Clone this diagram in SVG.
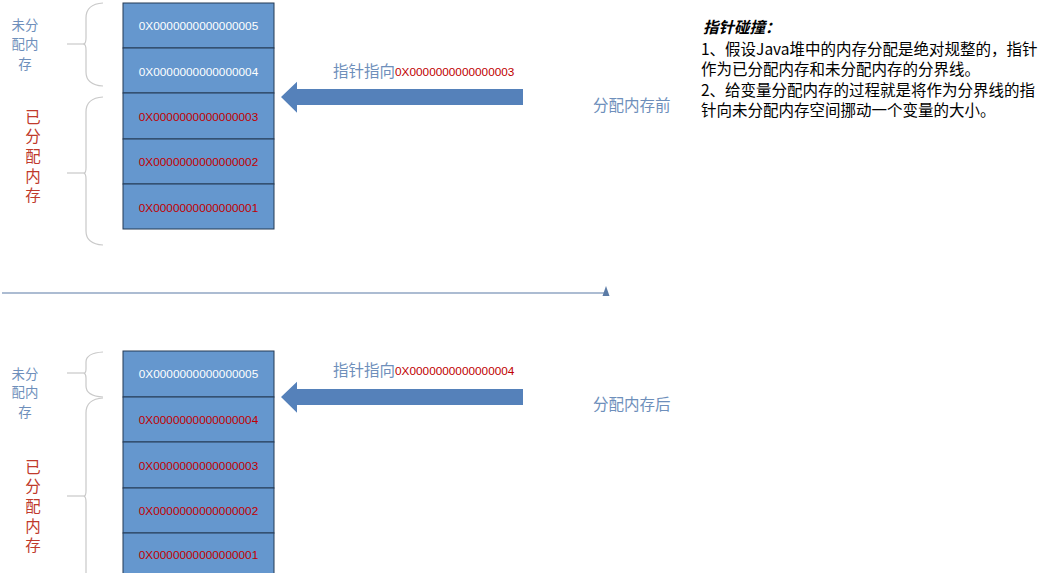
<svg xmlns="http://www.w3.org/2000/svg" width="1054" height="573" viewBox="0 0 1054 573">
<style>
.cell{fill:#6597CE;stroke:#253a55;stroke-width:1}
.hex{font-family:"Liberation Sans",Arial,sans-serif;font-size:11.8px;text-anchor:middle}
.w{fill:#ffffff}
.r{fill:#C00000}
.cjk{font-family:"Noto Sans CJK SC","Noto Sans",sans-serif;font-size:15.5px}
.small{font-family:"Noto Sans CJK SC","Noto Sans",sans-serif;font-size:13.4px;text-anchor:middle}
.vert{font-family:"Noto Sans CJK SC","Noto Sans",sans-serif;font-size:15.5px;writing-mode:vertical-rl;letter-spacing:4.2px}
.lb{fill:#6E8FBB}
.lr{fill:#C0392B}
.brace{fill:none;stroke:#C9C9C9;stroke-width:1.2}
.arrow{fill:#5581BA}
.note{font-family:"Noto Sans CJK SC","Noto Sans",sans-serif;font-size:15.5px;fill:#000}
</style>
<rect width="1054" height="573" fill="#ffffff"/>

<g id="stack-before">
<rect class="cell" x="123" y="3" width="151" height="45"/>
<rect class="cell" x="123" y="48" width="151" height="45"/>
<rect class="cell" x="123" y="93" width="151" height="46"/>
<rect class="cell" x="123" y="139" width="151" height="45"/>
<rect class="cell" x="123" y="184" width="151" height="45"/>
<text class="hex w" x="198.5" y="30">0X0000000000000005</text>
<text class="hex w" x="198.5" y="75.5">0X0000000000000004</text>
<text class="hex r" x="198.5" y="121">0X0000000000000003</text>
<text class="hex r" x="198.5" y="166">0X0000000000000002</text>
<text class="hex r" x="198.5" y="211.5">0X0000000000000001</text>
</g>

<g id="stack-after">
<rect class="cell" x="123" y="351" width="151" height="46"/>
<rect class="cell" x="123" y="397" width="151" height="45"/>
<rect class="cell" x="123" y="442" width="151" height="46"/>
<rect class="cell" x="123" y="488" width="151" height="45"/>
<rect class="cell" x="123" y="533" width="151" height="46"/>
<text class="hex w" x="198.5" y="378">0X0000000000000005</text>
<text class="hex r" x="198.5" y="424">0X0000000000000004</text>
<text class="hex r" x="198.5" y="470">0X0000000000000003</text>
<text class="hex r" x="198.5" y="515">0X0000000000000002</text>
<text class="hex r" x="198.5" y="559">0X0000000000000001</text>
</g>

<g id="labels-before">
<path class="brace" d="M103,3 Q86,4 86,18 L86,38 Q86,43 84,44 Q86,45 86,50 L86,72 Q86,85 103,86"/>
<line class="brace" x1="67" y1="44" x2="84" y2="44"/>
<path class="brace" d="M103,97 Q86,98 86,112 L86,168 Q86,173 84,173 Q86,174 86,179 L86,231 Q86,244 103,245"/>
<line class="brace" x1="67" y1="173" x2="84" y2="173"/>
<text class="small lb"><tspan x="25" y="30">未分</tspan><tspan x="25" dy="19">配内</tspan><tspan x="25" dy="19.5">存</tspan></text>
<text class="vert lr" x="33" y="109">已分配内存</text>
</g>

<g id="labels-after">
<path class="brace" d="M103,352 Q86,353 86,362 L86,369 Q86,373 84,373 Q86,374 86,378 L86,386 Q86,396 103,397"/>
<line class="brace" x1="67" y1="373" x2="84" y2="373"/>
<path class="brace" d="M103,398 Q86,399 86,413 L86,491 Q86,496 84,496 Q86,497 86,502 L86,580"/>
<line class="brace" x1="67" y1="496" x2="84" y2="496"/>
<text class="small lb"><tspan x="25" y="378.5">未分</tspan><tspan x="25" dy="18.5">配内</tspan><tspan x="25" dy="19.5">存</tspan></text>
<text class="vert lr" x="33" y="459">已分配内存</text>
</g>

<g id="connectors">
<path class="arrow" d="M281,97 L297,81.7 L297,89 L523,89 L523,105 L297,105 L297,112.7 Z"/>
<path class="arrow" d="M281,397 L297,381.7 L297,389 L523,389 L523,405 L297,405 L297,412.7 Z"/>
<line x1="2" y1="293" x2="604" y2="293" stroke="#5B7BA6" stroke-width="1.2"/>
<path d="M606,286 L609.5,296 L602.5,296 Z" fill="#5B7BA6"/>
</g>

<g id="pointer-before">
<text x="333" y="77"><tspan class="cjk lb">指针指向</tspan><tspan class="hex r" text-anchor="start" dy="-1">0X0000000000000003</tspan></text>
<text class="cjk lb" x="593" y="110.5">分配内存前</text>
</g>

<g id="pointer-after">
<text x="333" y="376"><tspan class="cjk lb">指针指向</tspan><tspan class="hex r" text-anchor="start" dy="-1">0X0000000000000004</tspan></text>
<text class="cjk lb" x="593" y="409.5">分配内存后</text>
</g>

<g id="note">
<text class="note" x="703" y="32.5" font-weight="bold" font-style="italic">指针碰撞：</text>
<text class="note" x="701" y="54.5">1、假设Java堆中的内存分配是绝对规整的，指针</text>
<text class="note" x="701" y="74.5">作为已分配内存和未分配内存的分界线。</text>
<text class="note" x="701" y="95.5">2、给变量分配内存的过程就是将作为分界线的指</text>
<text class="note" x="701" y="115.5">针向未分配内存空间挪动一个变量的大小。</text>
</g>
</svg>
